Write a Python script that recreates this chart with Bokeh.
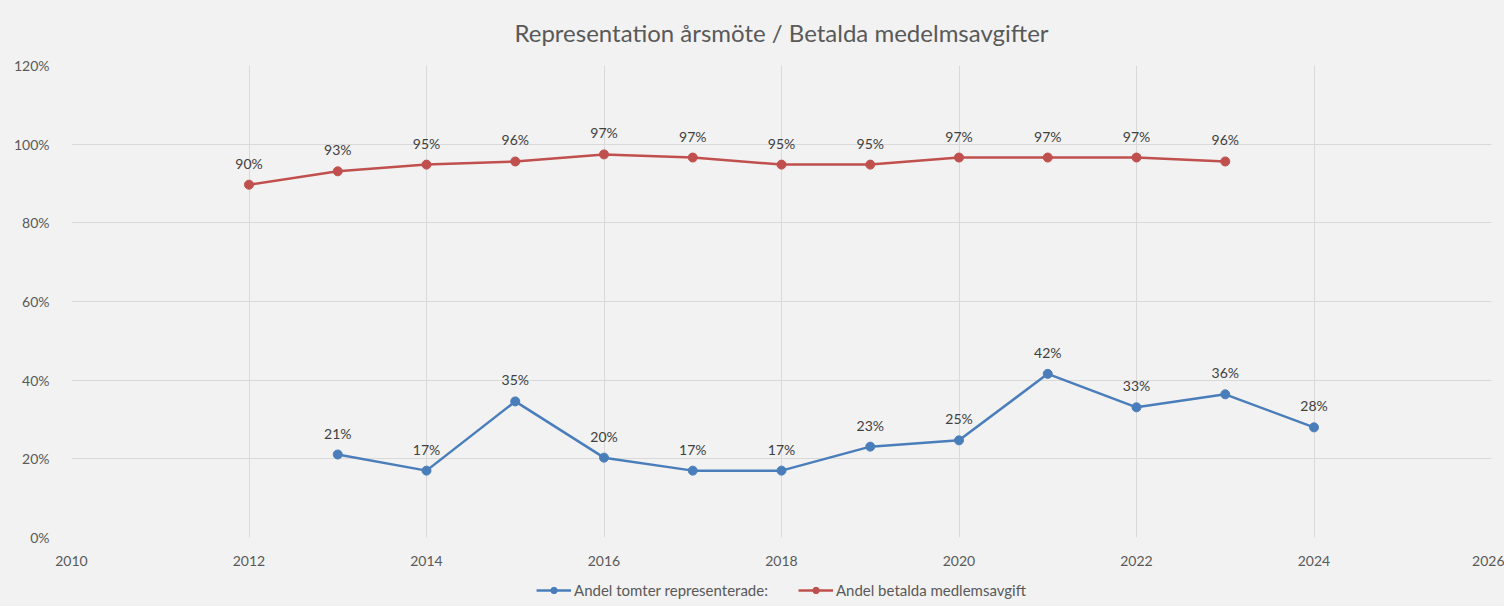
from bokeh.plotting import figure
from bokeh.models import ColumnDataSource, FixedTicker, NumeralTickFormatter, Legend, LegendItem, Range1d, LabelSet
from bokeh.layouts import column
from bokeh.core.properties import value
from bokeh.embed import file_html
from bokeh.resources import INLINE

# Data
title_text = "Representation årsmöte / Betalda medelmsavgifter"
years_rep = [2013, 2014, 2015, 2016, 2017, 2018, 2019, 2020, 2021, 2022, 2023, 2024]
rep_vals = [0.211, 0.170, 0.346, 0.203, 0.170, 0.170, 0.231, 0.247, 0.416, 0.331, 0.364, 0.280]
years_paid = [2012, 2013, 2014, 2015, 2016, 2017, 2018, 2019, 2020, 2021, 2022, 2023]
paid_vals = [0.897, 0.931, 0.948, 0.956, 0.974, 0.966, 0.948, 0.948, 0.966, 0.966, 0.966, 0.956]
x_ticks = [2010, 2012, 2014, 2016, 2018, 2020, 2022, 2024, 2026]
y_ticks = [0.0, 0.2, 0.4, 0.6, 0.8, 1.0, 1.2]
series_names = ["Andel tomter representerade:", "Andel betalda medlemsavgift"]

FONT = "Lato"
BG = "#f2f2f2"
GRID = "#d9d9d9"
TXT = "#595959"
BLUE = "#4a7ebb"
RED = "#c0504d"

def lbl(vals):
    return [f"{round(v * 100)}%" for v in vals]

src_rep = ColumnDataSource(dict(x=years_rep, y=rep_vals, t=lbl(rep_vals)))
src_paid = ColumnDataSource(dict(x=years_paid, y=paid_vals, t=lbl(paid_vals)))

p = figure(frame_width=1420, frame_height=472, output_backend="svg", toolbar_location=None,
           x_range=Range1d(2010, 2026), y_range=Range1d(0, 1.2),
           min_border_left=71, min_border_right=13, min_border_top=65, min_border_bottom=36,
           background_fill_color=BG, border_fill_color=BG, outline_line_color=None)

p.title.text = title_text
p.title.align = "center"
p.title.vertical_align = "top"
p.title.text_font = FONT
p.title.text_font_size = "24px"
p.title.text_font_style = "normal"
p.title.text_color = TXT
p.title.standoff = 34

for ax in (p.xaxis, p.yaxis):
    ax.axis_line_color = None
    ax.major_tick_line_color = None
    ax.minor_tick_line_color = None
    ax.major_label_text_font = FONT
    ax.major_label_text_font_size = "14px"
    ax.major_label_text_color = TXT
p.xaxis.ticker = FixedTicker(ticks=x_ticks)
p.yaxis.ticker = FixedTicker(ticks=y_ticks)
p.yaxis.formatter = NumeralTickFormatter(format="0%")
p.xaxis.major_label_standoff = 12
p.yaxis.major_label_standoff = 16

p.xgrid.grid_line_color = GRID
p.ygrid.grid_line_color = GRID
p.xgrid.grid_line_width = 1
p.ygrid.grid_line_width = 1

p.line("x", "y", source=src_rep, line_color=BLUE, line_width=2.5)
p.scatter("x", "y", source=src_rep, size=9, fill_color=BLUE, line_color=BLUE)
p.line("x", "y", source=src_paid, line_color=RED, line_width=2.5)
p.scatter("x", "y", source=src_paid, size=9, fill_color=RED, line_color=RED)

for src in (src_rep, src_paid):
    p.add_layout(LabelSet(x="x", y="y", text="t", source=src, text_align="center",
                          text_baseline="bottom", y_offset=13, text_font=value(FONT),
                          text_font_size="14px", text_color="#404040"))

# Legend strip below the chart: same series, drawn outside this strip's visible range
pl = figure(width=1504, height=33, output_backend="svg", toolbar_location=None,
            x_axis_type=None, y_axis_type=None, x_range=Range1d(0, 1), y_range=Range1d(0, 1),
            min_border_left=31, min_border_right=13, min_border_top=0, min_border_bottom=0,
            background_fill_color=BG, border_fill_color=BG, outline_line_color=None)
pl.xgrid.visible = False
pl.ygrid.visible = False
pl1 = pl.line("x", "y", source=src_rep, line_color=BLUE, line_width=2.5)
ps1 = pl.scatter("x", "y", source=src_rep, size=9, fill_color=BLUE, line_color=BLUE)
pl2 = pl.line("x", "y", source=src_paid, line_color=RED, line_width=2.5)
ps2 = pl.scatter("x", "y", source=src_paid, size=9, fill_color=RED, line_color=RED)

legend = Legend(items=[LegendItem(label=series_names[0], renderers=[pl1, ps1]),
                       LegendItem(label=series_names[1], renderers=[pl2, ps2])],
                orientation="horizontal", location="center",
                background_fill_color=BG, background_fill_alpha=0, border_line_color=None,
                label_text_font=FONT, label_text_font_size="15px", label_text_color=TXT,
                glyph_width=35, glyph_height=16, spacing=30, padding=3, margin=0,
                label_standoff=3, label_height=16)
pl.add_layout(legend, "center")

layout = column(p, pl, spacing=0, styles={"background-color": BG})
open("out.html", "w").write(file_html(layout, INLINE))
